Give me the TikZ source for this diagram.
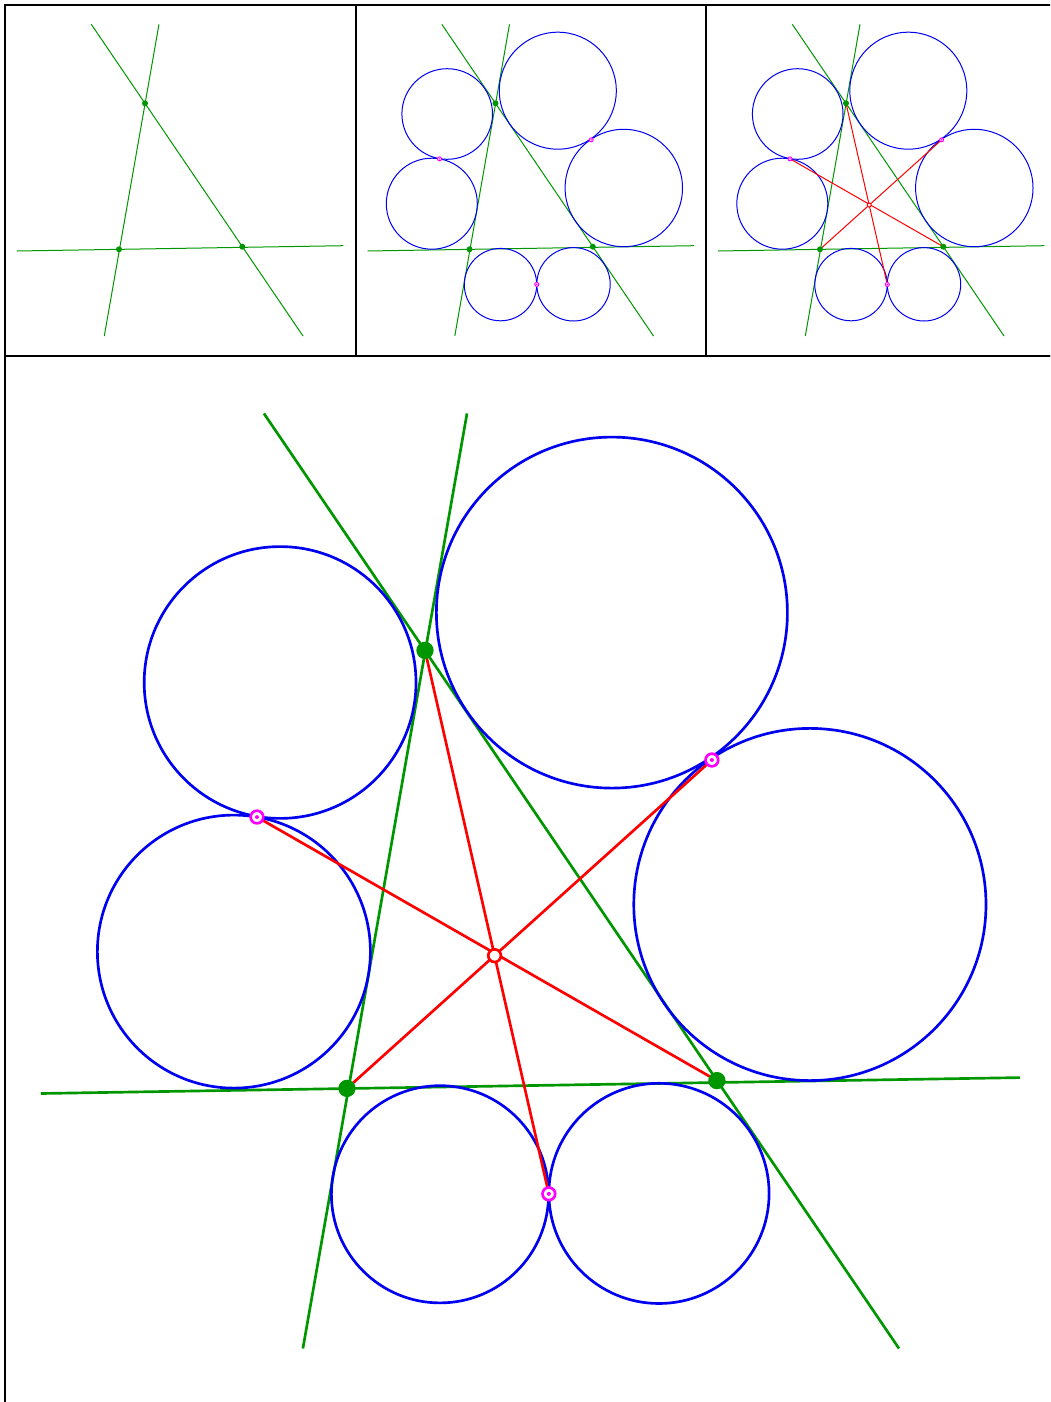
\documentclass[tikz,border=0pt]{standalone}
\usetikzlibrary{calc}
\definecolor{lgreen}{RGB}{0,150,0}
\definecolor{cblue}{RGB}{0,0,240}
\definecolor{rred}{RGB}{255,0,0}
\definecolor{mag}{RGB}{255,0,255}
\tikzset{every picture/.style={line width=0.75pt}}
\begin{document}
\begin{tikzpicture}[x=0.75pt,y=0.75pt,yscale=-1,
  frame/.style={line width=1.5pt},
  gline/.style={color=lgreen},
  circ/.style={color=cblue},
  rline/.style={color=rred},
  gpt/.style={circle,fill=lgreen,inner sep=0pt,minimum size=#1},
  tring/.style={circle,draw=mag,fill=white,inner sep=0pt,minimum size=#1},
  tdot/.style={circle,fill=mag,inner sep=0pt,minimum size=#1},
  cpt/.style={circle,draw=rred,fill=white,inner sep=0pt,minimum size=#1}]
\useasboundingbox (0,0) rectangle (1050,1402);
\clip (0,0) rectangle (1050,1402);

%Frames
\foreach \fx/\fy/\fw in {5/5/350.5, 355.5/5/350.5, 706/5/350.5, 5/355.5/1051.5}
  \draw[frame] (\fx,\fy) rectangle ++(\fw,\fw);

%Panels: step 1 lines, step 2 circles, step 3 red lines
\foreach \px/\py/\s/\lvl/\lw/\gd/\rd/\dd in {5/5/1/1/0.75/4.5/3/1.2, 355.5/5/1/2/0.75/4.5/3/1.2, 706/5/1/3/0.75/4.5/3/1.2, 5/355.5/3/3/2/13/9.5/3}{
\begin{scope}[shift={(\px,\py)},scale=\s,line width=\lw pt]
  % vertices
  \coordinate (A) at (140,98.3);
  \coordinate (B) at (114,244.3);
  \coordinate (C) at (237.3,241.7);
  % line ends
  \coordinate (l1a) at (154,19.3);  \coordinate (l1b) at (99.3,331);
  \coordinate (l2a) at (86.3,19.3); \coordinate (l2b) at (298,331);
  \coordinate (l3a) at (12,246);    \coordinate (l3b) at (338.3,240.7);
  % circle centres
  \coordinate (o1) at (91.7,109);
  \coordinate (o2) at (76.3,198.7);
  \coordinate (o3) at (202.3,85.7);
  \coordinate (o4) at (268.3,183);
  \coordinate (o5) at (145,279.6);
  \coordinate (o6) at (218,279.3);
  % tangency points
  \coordinate (t1) at ($(o1)!0.5!(o2)$);
  \coordinate (t2) at ($(o3)!0.505!(o4)$);
  \coordinate (t3) at ($(o5)!0.497!(o6)$);
  \coordinate (O) at (intersection of A--t3 and B--t2);

  \draw[gline] (l1a) -- (l1b);
  \draw[gline] (l2a) -- (l2b);
  \draw[gline] (l3a) -- (l3b);
  \ifnum\lvl>1
    \draw[circ] (o1) circle[radius=45.3];
    \draw[circ] (o2) circle[radius=45.5];
    \draw[circ] (o3) circle[radius=58.5];
    \draw[circ] (o4) circle[radius=58.7];
    \draw[circ] (o5) circle[radius=36.2];
    \draw[circ] (o6) circle[radius=36.7];
  \fi
  \ifnum\lvl>2
    \draw[rline] (A) -- (t3);
    \draw[rline] (C) -- (t1);
    \draw[rline] (B) -- (t2);
  \fi
  \node[gpt=\gd pt] (pA) at (A) {};
  \node[gpt=\gd pt] (pB) at (B) {};
  \node[gpt=\gd pt] (pC) at (C) {};
  \ifnum\lvl>1
    \foreach \t in {t1,t2,t3}{
      \node[tring=\rd pt] (r\t) at (\t) {};
      \node[tdot=\dd pt] (d\t) at (\t) {};
    }
  \fi
  \ifnum\lvl>2
    \node[cpt=\rd pt] (pO) at (O) {};
  \fi
\end{scope}
}

\end{tikzpicture}
\end{document}
